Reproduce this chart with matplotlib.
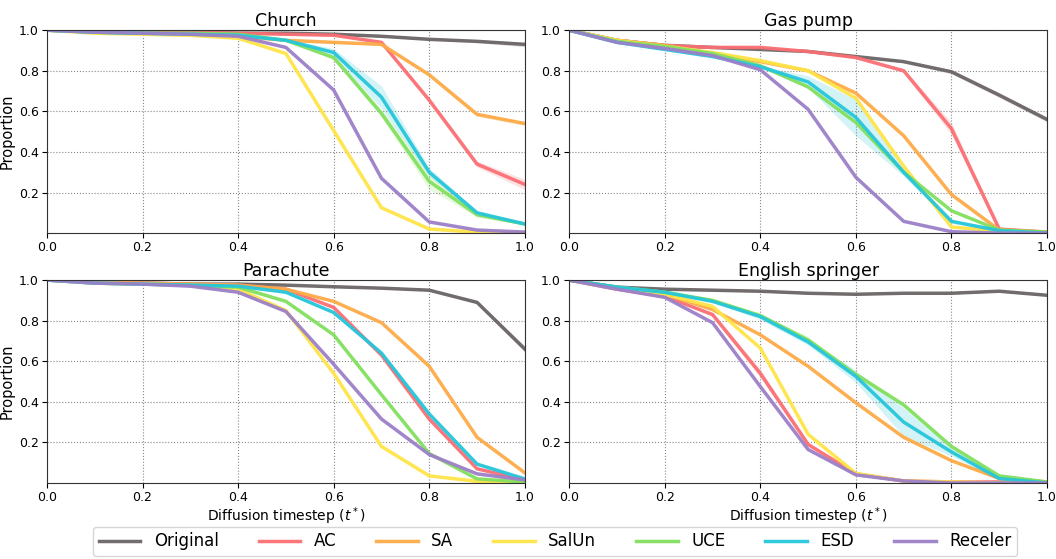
import numpy as np
import matplotlib.pyplot as plt

t = np.round(np.arange(0, 1.01, 0.1), 1)

methods = ["Original", "AC", "SA", "SalUn", "UCE", "ESD", "Receler"]
colors = ["#6b6565", "#fb6f74", "#fdab48", "#ffe448", "#82e05e", "#26c6da", "#9c80c8"]
titles = ["Church", "Gas pump", "Parachute", "English springer"]

church = {
    "Original": [1.0, 0.995, 0.99, 0.99, 0.985, 0.985, 0.98, 0.97, 0.955, 0.945, 0.93],
    "AC":       [1.0, 0.995, 0.99, 0.99, 0.985, 0.98, 0.975, 0.94, 0.655, 0.34, 0.24],
    "SA":       [1.0, 0.99, 0.985, 0.98, 0.97, 0.95, 0.94, 0.93, 0.78, 0.585, 0.54],
    "SalUn":    [1.0, 0.985, 0.98, 0.975, 0.96, 0.885, 0.505, 0.125, 0.02, 0.005, 0.0],
    "UCE":      [1.0, 0.99, 0.985, 0.985, 0.98, 0.95, 0.865, 0.59, 0.255, 0.09, 0.045],
    "ESD":      [1.0, 0.99, 0.985, 0.98, 0.975, 0.95, 0.89, 0.67, 0.30, 0.10, 0.045],
    "Receler":  [1.0, 0.99, 0.985, 0.98, 0.97, 0.915, 0.705, 0.27, 0.055, 0.015, 0.005],
}
gas_pump = {
    "Original": [1.0, 0.95, 0.925, 0.915, 0.905, 0.895, 0.87, 0.845, 0.795, 0.68, 0.56],
    "AC":       [1.0, 0.95, 0.925, 0.915, 0.915, 0.895, 0.865, 0.80, 0.515, 0.02, 0.005],
    "SA":       [1.0, 0.95, 0.925, 0.885, 0.845, 0.80, 0.69, 0.48, 0.19, 0.015, 0.005],
    "SalUn":    [1.0, 0.95, 0.92, 0.89, 0.85, 0.80, 0.665, 0.33, 0.03, 0.01, 0.0],
    "UCE":      [1.0, 0.945, 0.92, 0.885, 0.825, 0.72, 0.545, 0.30, 0.11, 0.015, 0.005],
    "ESD":      [1.0, 0.94, 0.905, 0.87, 0.82, 0.745, 0.57, 0.30, 0.058, 0.012, 0.0],
    "Receler":  [1.0, 0.94, 0.91, 0.875, 0.805, 0.61, 0.275, 0.058, 0.007, 0.0, 0.0],
}
parachute = {
    "Original": [1.0, 0.99, 0.985, 0.98, 0.98, 0.975, 0.967, 0.96, 0.95, 0.89, 0.66],
    "AC":       [1.0, 0.99, 0.985, 0.98, 0.975, 0.955, 0.865, 0.63, 0.315, 0.07, 0.015],
    "SA":       [1.0, 0.99, 0.985, 0.98, 0.975, 0.955, 0.895, 0.79, 0.575, 0.225, 0.05],
    "SalUn":    [1.0, 0.985, 0.98, 0.975, 0.955, 0.85, 0.54, 0.18, 0.035, 0.008, 0.0],
    "UCE":      [1.0, 0.985, 0.98, 0.975, 0.965, 0.895, 0.73, 0.435, 0.145, 0.02, 0.005],
    "ESD":      [1.0, 0.985, 0.98, 0.975, 0.97, 0.94, 0.84, 0.64, 0.34, 0.093, 0.02],
    "Receler":  [1.0, 0.985, 0.98, 0.97, 0.94, 0.845, 0.585, 0.315, 0.14, 0.045, 0.015],
}
springer = {
    "Original": [1.0, 0.965, 0.955, 0.95, 0.945, 0.935, 0.93, 0.935, 0.935, 0.945, 0.925],
    "AC":       [1.0, 0.955, 0.92, 0.83, 0.54, 0.19, 0.045, 0.01, 0.005, 0.005, 0.0],
    "SA":       [1.0, 0.96, 0.93, 0.855, 0.73, 0.575, 0.395, 0.225, 0.11, 0.022, 0.005],
    "SalUn":    [1.0, 0.96, 0.93, 0.87, 0.665, 0.24, 0.047, 0.01, 0.005, 0.0, 0.0],
    "UCE":      [1.0, 0.965, 0.94, 0.90, 0.825, 0.705, 0.535, 0.385, 0.18, 0.035, 0.005],
    "ESD":      [1.0, 0.965, 0.94, 0.895, 0.82, 0.695, 0.525, 0.30, 0.153, 0.022, 0.0],
    "Receler":  [1.0, 0.955, 0.915, 0.79, 0.475, 0.165, 0.04, 0.01, 0.0, 0.0, 0.0],
}
all_data = [church, gas_pump, parachute, springer]

# visible std bands (others are hair-thin)
church_std = {
    "Original": [0, 0, 0, 0, 0, 0, 0.003, 0.004, 0.005, 0.007, 0.012],
    "AC":       [0, 0, 0, 0, 0, 0, 0.004, 0.005, 0.01, 0.015, 0.025],
    "SA":       [0, 0, 0, 0, 0, 0, 0.004, 0.005, 0.01, 0.01, 0.01],
    "UCE":      [0, 0, 0, 0, 0, 0.005, 0.01, 0.02, 0.04, 0.01, 0.005],
    "ESD":      [0, 0, 0, 0, 0, 0.005, 0.02, 0.055, 0.02, 0.01, 0.005],
}
gas_pump_std = {
    "Original": [0, 0, 0, 0, 0, 0, 0, 0.006, 0.01, 0.012, 0.012],
    "AC":       [0, 0, 0, 0, 0, 0, 0, 0.01, 0.03, 0.01, 0.0],
    "ESD":      [0, 0, 0, 0, 0.005, 0.03, 0.09, 0.02, 0.01, 0.0, 0.0],
}
parachute_std = {
    "Original": [0, 0, 0, 0, 0, 0, 0, 0, 0.003, 0.008, 0.015],
}
springer_std = {
    "AC":  [0, 0, 0, 0.01, 0.02, 0.01, 0.005, 0, 0, 0, 0],
    "UCE": [0, 0, 0, 0, 0.01, 0.015, 0.01, 0.01, 0.01, 0.005, 0],
    "ESD": [0, 0, 0, 0, 0.015, 0.015, 0.03, 0.07, 0.02, 0.005, 0],
}
all_std = [church_std, gas_pump_std, parachute_std, springer_std]

fig = plt.figure(figsize=(10.56, 5.59), dpi=100)
lefts = [0.0445, 0.539, 0.0445, 0.539]
bottoms = [0.583, 0.583, 0.136, 0.136]
w, h = 0.4525, 0.363

for i in range(4):
    ax = fig.add_axes([lefts[i], bottoms[i], w, h])
    data = all_data[i]
    std = all_std[i]
    for m, c in zip(methods, colors):
        y = np.array(data[m])
        s = np.array(std.get(m, [0.004] * len(t)))
        ax.fill_between(t, y - s, y + s, color=c, alpha=0.2, linewidth=0)
        ax.plot(t, y, color=c, linewidth=2.5, alpha=0.95, label=m)
    ax.set_xlim(0, 1)
    ax.set_ylim(0, 1)
    ax.set_xticks([0.0, 0.2, 0.4, 0.6, 0.8, 1.0])
    ax.set_yticks([0.2, 0.4, 0.6, 0.8, 1.0])
    ax.grid(True, linestyle=":", color="#888888", linewidth=0.8)
    ax.set_title(titles[i], fontsize=12.5, pad=3)
    ax.tick_params(labelsize=9, pad=2.5)
    for sp in ax.spines.values():
        sp.set_color("#333333")
    if i % 2 == 0:
        ax.set_ylabel("Proportion", fontsize=10.5, labelpad=3)
    if i >= 2:
        ax.set_xlabel("Diffusion timestep ($t^*$)", fontsize=10, labelpad=1)

handles, labels = ax.get_legend_handles_labels()
fig.legend(handles, labels, loc="lower center", bbox_to_anchor=(0.5256, -0.01),
           ncol=7, fontsize=12, frameon=True, handlelength=2.5, columnspacing=2.4,
           borderpad=0.35)

fig.savefig("out.png", dpi=100)
